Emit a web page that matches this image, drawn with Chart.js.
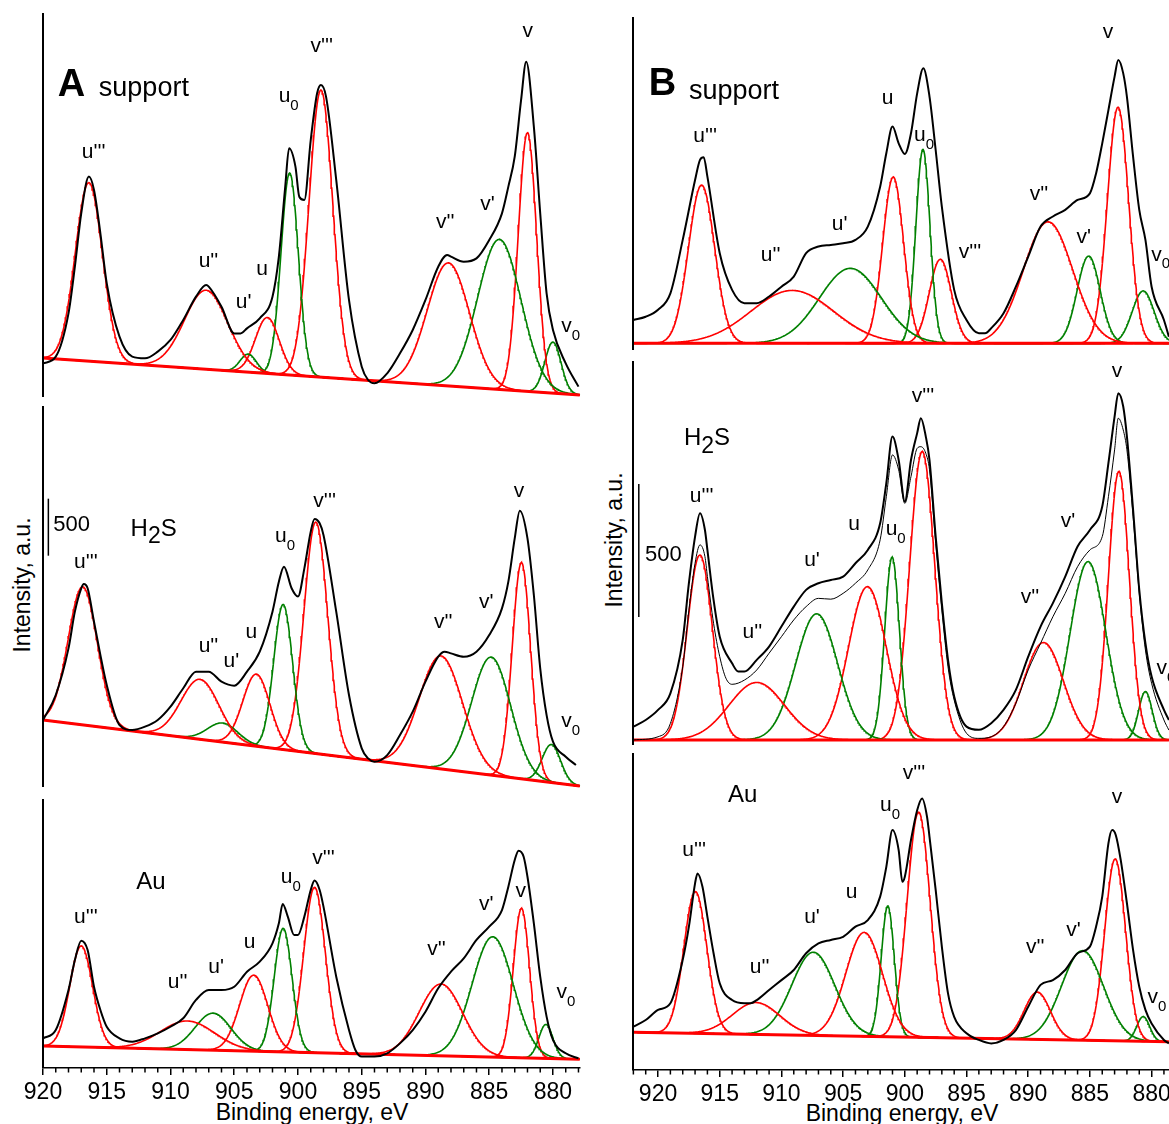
<!DOCTYPE html>
<html>
<head>
<meta charset="utf-8">
<title>Ce 3d XPS spectra</title>
<script src="https://cdn.jsdelivr.net/npm/chart.js@4.4.1/dist/chart.umd.min.js"></script>
<style>
  html, body { margin: 0; padding: 0; background: #fff; overflow: hidden; }
  body { width: 1169px; height: 1124px; position: relative; font-family: "Liberation Sans", Arial, sans-serif; }
  canvas { position: absolute; }
  .axisTitle { position: absolute; font-size: 23px; color: #000; white-space: nowrap; transform: translate(-50%, -50%); }
  .rot { transform: translate(-50%, -50%) rotate(-90deg); }
</style>
</head>
<body>
<div class="axisTitle rot" style="left:22px; top:585px;">Intensity, a.u.</div>
<div class="axisTitle rot" style="left:614px; top:540px;">Intensity, a.u.</div>
<div class="axisTitle" style="left:312px; top:1112px;">Binding energy, eV</div>
<div class="axisTitle" style="left:902px; top:1113px;">Binding energy, eV</div>
<script>
// peak order is the same in every panel
var peakNames = ["u'''", "u''", "u'", "u", "u_0", "v'''", "v''", "v'", "v", "v_0"];
var peakState = ["Ce4+", "Ce4+", "Ce3+", "Ce4+", "Ce3+", "Ce4+", "Ce4+", "Ce3+", "Ce4+", "Ce3+"];

// baseline end points (eV)
var leftBaseEnergy = [920, 877.9];
var rightBaseEnergy = [922, 878.6];

// ---- A: support ----
var aSupportEnergy = [920, 919, 918, 917.5, 917, 916.4, 916, 915.5, 915, 914, 913, 912, 911, 910, 909, 908, 907.2, 907, 906, 905, 904.5, 904, 903, 902, 901.5, 901, 900.7, 900.2, 899.9, 899.5, 899, 898.5, 898.2, 897.8, 897, 896, 895, 894.5, 894, 893, 892, 891, 890, 889, 888.3, 888, 887, 886, 885, 884, 883.5, 883, 882.5, 882.1, 881.5, 881, 880.5, 880, 879, 878];
var aSupportCounts = [295, 354, 734, 1143, 1611, 1933, 1816, 1436, 997, 529, 354, 339, 398, 500, 676, 880, 982, 968, 792, 558, 558, 602, 690, 880, 1231, 1845, 2181, 2020, 1757, 1728, 2254, 2664, 2737, 2635, 1904, 851, 266, 149, 120, 208, 383, 588, 851, 1143, 1246, 1231, 1187, 1216, 1377, 1611, 1845, 2108, 2605, 2941, 2371, 1611, 909, 588, 295, 91];
var aSupportBaseline = [342, 18];
var aSupportCenter = [916.4, 907.2, 903.9, 902.4, 900.65, 898.2, 888.2, 884.2, 882.0, 880.0];
var aSupportHeight = [1566, 693, 158, 491, 1772, 2518, 1079, 1316, 2270, 447];
var aSupportWidth = [2.5, 4.0, 1.5, 2.2, 1.6, 2.2, 3.9, 4.0, 1.7, 1.5];
var aSupportLabelE = [916.03, 907.02, 904.26, 902.81, 900.73, 898.14, 888.45, 885.14, 881.98, 878.61];
var aSupportLabelC = [2140, 1184, 825, 1114, 2632, 3070, 1526, 1684, 3202, 614];

// ---- A: H2S ----
var aH2SEnergy = [920, 919, 918, 917.5, 917, 916.8, 916.5, 916, 915, 914, 913, 912, 911, 910, 909, 908, 907, 906, 905, 904, 903, 902, 901.5, 901.1, 900.5, 900, 899.5, 899, 898.7, 898.3, 898, 897, 896, 895, 894.5, 894, 893, 892, 891, 890, 889, 888.5, 888, 887, 886, 885, 884, 883.5, 883, 882.6, 882, 881.5, 881, 880.5, 880, 879, 878.2];
var aH2SCounts = [588, 807, 1216, 1538, 1743, 1781, 1743, 1450, 895, 544, 500, 529, 588, 705, 866, 1012, 1012, 924, 889, 1012, 1187, 1538, 1801, 1933, 1743, 1670, 1918, 2240, 2351, 2313, 2211, 1538, 807, 339, 251, 222, 280, 456, 661, 924, 1143, 1187, 1172, 1143, 1187, 1333, 1567, 1801, 2181, 2424, 2181, 1684, 1041, 631, 398, 266, 193];
var aH2SBaseline = [588, 9];
var aH2SCenter = [916.88, 907.68, 905.9, 903.26, 901.16, 898.6, 888.78, 884.84, 882.47, 880.12];
var aH2SHeight = [1211, 526, 167, 632, 1272, 2030, 991, 1035, 1897, 333];
var aH2SWidth = [2.7, 3.5, 2.8, 2.5, 1.75, 2.2, 4.0, 3.6, 1.7, 1.7];
var aH2SLabelE = [916.64, 907.02, 905.22, 903.65, 901.01, 897.91, 888.60, 885.23, 882.67, 878.61];
var aH2SLabelC = [1965, 1228, 1097, 1351, 2193, 2500, 1439, 1614, 2588, 570];

// ---- A: Au ----
var aAuEnergy = [920, 919, 918, 917.5, 917, 916.5, 916, 915.5, 915, 914, 913, 912, 911, 910, 909, 908, 907, 906, 905, 904, 903, 902, 901.5, 901.2, 900.8, 900.3, 900, 899.5, 899, 898.7, 898.3, 898, 897, 896, 895.5, 895, 894, 893, 892, 891, 890, 889, 888, 887, 886, 885, 884, 883.5, 883, 882.7, 882.3, 882, 881.5, 881, 880.5, 880, 879, 878];
var aAuCounts = [260, 333, 684, 947, 1117, 1035, 713, 509, 362, 260, 231, 260, 304, 362, 436, 597, 684, 684, 713, 845, 933, 1094, 1269, 1439, 1328, 1167, 1167, 1328, 1562, 1644, 1562, 1416, 801, 333, 158, 100, 100, 129, 216, 333, 494, 699, 845, 962, 1123, 1240, 1386, 1591, 1825, 1907, 1854, 1678, 1269, 801, 451, 246, 129, 85];
var aAuBaseline = [193, 77];
var aAuCenter = [917.0, 908.67, 906.66, 903.47, 901.16, 898.7, 888.78, 884.72, 882.47, 880.55];
var aAuHeight = [886, 251, 325, 667, 1084, 1451, 630, 1056, 1311, 298];
var aAuWidth = [2.1, 5.0, 3.3, 2.6, 1.65, 2.0, 4.0, 3.8, 1.5, 1.3];
var aAuLabelE = [916.64, 909.44, 906.42, 903.80, 900.56, 898.0, 889.14, 885.23, 882.53, 878.98];
var aAuLabelC = [1316, 746, 877, 1097, 1667, 1842, 1035, 1430, 1544, 658];

// ---- B: support ----
var bSupportEnergy = [922, 921, 920, 919, 918, 917, 916.6, 916.3, 916, 915, 914, 913, 912, 911, 910, 909, 908, 907, 906, 905, 904, 903, 902, 901.5, 901, 900.5, 900, 899.5, 899, 898.5, 898, 897.5, 897, 896, 895, 894, 893.5, 893, 892, 891, 890, 889, 888, 887, 886, 885, 884.5, 884, 883.5, 883, 882.7, 882.3, 882, 881.5, 881, 880.5, 880, 879, 878.6];
var bSupportCounts = [113, 125, 151, 213, 414, 639, 715, 725, 652, 364, 226, 176, 176, 201, 238, 276, 364, 389, 395, 401, 414, 464, 614, 740, 840, 777, 737, 815, 965, 1059, 953, 752, 539, 226, 113, 63, 63, 82, 138, 238, 351, 464, 502, 527, 564, 589, 664, 777, 902, 1028, 1090, 1040, 952, 727, 527, 414, 238, 113, 50];
var bSupportBaseline = [25, 25];
var bSupportCenter = [916.47, 909.12, 904.41, 900.94, 898.53, 897.12, 888.39, 885.1, 882.72, 880.68];
var bSupportHeight = [595, 199, 282, 625, 729, 316, 457, 328, 888, 197];
var bSupportWidth = [2.5, 7.9, 5.9, 2.0, 1.35, 2.1, 4.7, 2.2, 2.03, 2.1];
var bSupportLabelE = [916.19, 910.88, 905.29, 901.39, 898.44, 894.72, 889.12, 885.50, 883.53, 879.27];
var bSupportLabelC = [801, 357, 470, 947, 808, 368, 583, 421, 1192, 357];

// ---- B: H2S (measured and fitted envelope) ----
var bH2SEnergy = [922, 921, 920, 919, 918, 917.5, 917, 916.6, 916.2, 916, 915.5, 915, 914, 913.5, 913, 912, 911, 910, 909, 908, 907, 906, 905, 904, 903, 902, 901.5, 901, 900.5, 900, 899.5, 899, 898.7, 898.3, 898, 897.5, 897, 896.5, 896, 895, 894, 893, 892, 891, 890, 889, 888, 887, 886, 885, 884, 883.5, 883, 882.7, 882.3, 882, 881.5, 881, 880.5, 880, 879, 878.6];
var bH2SCounts = [69, 94, 132, 194, 395, 608, 783, 871, 808, 733, 545, 407, 307, 276, 276, 320, 370, 445, 520, 583, 608, 620, 633, 683, 733, 833, 984, 1159, 1071, 915, 1071, 1172, 1228, 1159, 1071, 783, 533, 320, 182, 69, 57, 82, 132, 207, 332, 445, 533, 633, 746, 808, 896, 1059, 1234, 1322, 1272, 1159, 884, 583, 382, 257, 132, 94];
var bH2SFitEnergy = [922, 920, 919, 918, 917.5, 917, 916.6, 916.2, 916, 915.5, 915, 914.5, 914, 913, 912, 911, 910, 909, 908, 907, 906, 905, 904, 903, 902, 901.5, 901, 900.5, 900, 899.5, 899, 898.7, 898.3, 898, 897.5, 897, 896.5, 896, 895, 894, 893, 892, 891, 890, 889, 888, 887, 886, 885, 884, 883.5, 883, 882.7, 882.3, 882, 881.5, 881, 880.5, 880, 879, 878.6];
var bH2SFitCounts = [19, 31, 81, 294, 507, 683, 752, 708, 633, 457, 332, 251, 228, 244, 282, 345, 407, 470, 520, 551, 548, 570, 608, 658, 771, 933, 1090, 1034, 908, 1009, 1115, 1121, 1096, 1034, 758, 507, 294, 169, 44, 25, 31, 69, 157, 282, 382, 482, 570, 670, 733, 783, 933, 1109, 1228, 1184, 1109, 858, 570, 357, 232, 94, 56];
var bH2SBaseline = [19, 19];
var bH2SCenter = [916.61, 912.0, 907.14, 903.03, 901.03, 898.59, 888.76, 885.15, 882.65, 880.5];
var bH2SHeight = [695, 216, 474, 576, 687, 1084, 366, 670, 1009, 182];
var bH2SWidth = [2.4, 5.3, 4.0, 3.6, 1.4, 2.4, 3.8, 3.4, 2.0, 1.3];
var bH2SLabelE = [916.47, 912.35, 907.52, 904.12, 900.74, 898.53, 889.85, 886.77, 882.80, 878.84];
var bH2SLabelC = [932, 421, 695, 827, 808, 1308, 556, 838, 1402, 289];

// ---- B: Au ----
var bAuEnergy = [922, 921, 920, 919, 918, 917.5, 917, 916.8, 916.4, 916, 915.5, 915, 914, 913, 912.5, 912, 911, 910, 909, 908, 907, 906, 905, 904, 903, 902, 901.5, 901, 900.5, 900.2, 900, 899.5, 899, 898.6, 898.2, 898, 897.5, 897, 896.5, 896, 895, 894, 893, 892, 891, 890, 889, 888, 887, 886, 885, 884.5, 884, 883.5, 883.2, 882.9, 882.5, 882, 881.5, 881, 880.5, 880, 879, 878.6];
var bAuCounts = [163, 188, 226, 251, 414, 539, 702, 739, 689, 576, 439, 326, 263, 251, 251, 263, 301, 338, 376, 439, 476, 489, 501, 539, 564, 652, 764, 902, 827, 708, 727, 865, 977, 1021, 952, 877, 677, 464, 288, 200, 138, 113, 100, 113, 150, 238, 320, 338, 376, 439, 464, 539, 652, 852, 902, 883, 789, 627, 451, 313, 226, 175, 113, 100];
var bAuBaseline = [142, 106];
var bAuCenter = [916.97, 912.05, 907.41, 903.29, 901.38, 898.88, 889.26, 885.59, 882.95, 880.68];
var bAuHeight = [533, 120, 313, 391, 492, 847, 178, 337, 684, 93];
var bAuWidth = [2.2, 4.5, 4.1, 3.5, 1.25, 2.2, 2.5, 4.0, 2.0, 1.23];
var bAuLabelE = [917.08, 911.76, 907.52, 904.32, 901.20, 899.25, 889.42, 886.33, 882.80, 879.56];
var bAuLabelC = [827, 387, 575, 669, 996, 1116, 459, 526, 1026, 274];

var FONT = '"Liberation Sans", Arial, sans-serif';
var stateColor = { "Ce4+": "#ff0000", "Ce3+": "#008000" };

var panels = [
  { area: [43, 13, 580, 397], xRange: [877.88, 920], yMax: 3368, xAxis: false,
    energy: aSupportEnergy, counts: aSupportCounts, baseline: aSupportBaseline, baseEnergy: leftBaseEnergy,
    center: aSupportCenter, height: aSupportHeight, width: aSupportWidth, labelE: aSupportLabelE, labelC: aSupportLabelC,
    titles: [{ text: "A", x: 917.76, y: 2759, size: 38, bold: true, caps: true },
             { text: "support", x: 915.62, y: 2702, size: 27, align: "left" }] },
  { area: [43, 406, 580, 787], xRange: [877.88, 920], yMax: 3342, xAxis: false,
    energy: aH2SEnergy, counts: aH2SCounts, baseline: aH2SBaseline, baseEnergy: leftBaseEnergy,
    center: aH2SCenter, height: aH2SHeight, width: aH2SWidth, labelE: aH2SLabelE, labelC: aH2SLabelC,
    titles: [{ text: "H_2S", x: 911.32, y: 2281, size: 24, caps: true, subScale: 0.95, subShift: 0.3 }],
    scaleBar: { x: 919.58, from: 2029, to: 2529, textX: 919.19, textY: 2316 } },
  { area: [43, 799, 580, 1068], xRange: [877.88, 920], yMax: 2360, xAxis: true,
    energy: aAuEnergy, counts: aAuCounts, baseline: aAuBaseline, baseEnergy: leftBaseEnergy,
    center: aAuCenter, height: aAuHeight, width: aAuWidth, labelE: aAuLabelE, labelC: aAuLabelC,
    titles: [{ text: "Au", x: 911.53, y: 1649, size: 24, caps: true }] },
  { area: [633, 17, 1169, 350], xRange: [878.59, 922.03], yMax: 1252, xAxis: false,
    energy: bSupportEnergy, counts: bSupportCounts, baseline: bSupportBaseline, baseEnergy: rightBaseEnergy,
    center: bSupportCenter, height: bSupportHeight, width: bSupportWidth, labelE: bSupportLabelE, labelC: bSupportLabelC,
    titles: [{ text: "B", x: 919.64, y: 1009, size: 38, bold: true, caps: true },
             { text: "support", x: 917.5, y: 971, size: 27, align: "left" }] },
  { area: [633, 361, 1169, 745], xRange: [878.59, 922.03], yMax: 1443, xAxis: false,
    energy: bH2SEnergy, counts: bH2SCounts, fitEnergy: bH2SFitEnergy, fitCounts: bH2SFitCounts,
    baseline: bH2SBaseline, baseEnergy: rightBaseEnergy,
    center: bH2SCenter, height: bH2SHeight, width: bH2SWidth, labelE: bH2SLabelE, labelC: bH2SLabelC,
    titles: [{ text: "H_2S", x: 916.03, y: 1158, size: 24, caps: true, subScale: 0.95, subShift: 0.3 }],
    scaleBar: { x: 921.56, from: 481, to: 981, textX: 921.05, textY: 722 } },
  { area: [633, 753, 1169, 1070], xRange: [878.59, 922.03], yMax: 1192, xAxis: true,
    energy: bAuEnergy, counts: bAuCounts, baseline: bAuBaseline, baseEnergy: rightBaseEnergy,
    center: bAuCenter, height: bAuHeight, width: bAuWidth, labelE: bAuLabelE, labelC: bAuLabelC,
    titles: [{ text: "Au", x: 913.15, y: 1041, size: 24, caps: true }] }
];

var AXIS_H = 52;
var PAD = 24;

function baselineAt(p, e) {
  var t = (p.baseEnergy[0] - e) / (p.baseEnergy[0] - p.baseEnergy[1]);
  return p.baseline[0] + t * (p.baseline[1] - p.baseline[0]);
}

// one fitted component on top of the baseline
function componentPoints(p, i) {
  var c = p.center[i], h = p.height[i], w = p.width[i];
  var lo = Math.max(p.xRange[0], c - 3.5 * w), hi = Math.min(p.xRange[1], c + 3.5 * w);
  var pts = [];
  for (var e = lo; e <= hi + 1e-9; e += 0.05) {
    pts.push({ x: e, y: baselineAt(p, e) + h * Math.exp(-4 * Math.LN2 * (e - c) * (e - c) / (w * w)) });
  }
  return pts;
}

function toPoints(en, cn) {
  return en.map(function (e, i) { return { x: e, y: cn[i] }; });
}

// text with one-character subscripts written as "_x"
function drawRich(ctx, item, px, py) {
  var size = item.size, subScale = item.subScale || 0.72, subShift = item.subShift || 0.38;
  var parts = [], s = item.text;
  for (var i = 0; i < s.length; i++) {
    if (s[i] === "_") { parts.push({ t: s[i + 1], sub: true }); i++; continue; }
    var last = parts[parts.length - 1];
    if (last && !last.sub) last.t += s[i]; else parts.push({ t: s[i], sub: false });
  }
  var weight = item.bold ? "bold " : "";
  var total = 0;
  parts.forEach(function (q) {
    q.size = q.sub ? Math.round(size * subScale) : size;
    ctx.font = weight + q.size + "px " + FONT;
    q.w = ctx.measureText(q.t).width;
    total += q.w;
  });
  var x = item.align === "left" ? px : px - total / 2;
  var base = py + size * (item.caps ? 0.36 : 0.26);
  ctx.textAlign = "left";
  ctx.textBaseline = "alphabetic";
  ctx.fillStyle = "#000";
  parts.forEach(function (q) {
    ctx.font = weight + q.size + "px " + FONT;
    ctx.fillText(q.t, x, q.sub ? base + size * subShift : base);
    x += q.w;
  });
}

function makeDecor(p) {
  var labels = p.titles.slice();
  peakNames.forEach(function (n, i) {
    labels.push({ text: n, x: p.labelE[i], y: p.labelC[i], size: 21 });
  });
  return {
    id: "panelDecor",
    afterDraw: function (chart) {
      var ctx = chart.ctx, area = chart.chartArea, xs = chart.scales.x, ys = chart.scales.y;
      ctx.save();
      ctx.strokeStyle = "#000";
      ctx.lineWidth = 2;
      ctx.beginPath();
      ctx.moveTo(area.left, area.top);
      ctx.lineTo(area.left, area.bottom);
      ctx.stroke();
      if (p.xAxis) {
        // minor ticks every 1 eV
        ctx.lineWidth = 1.5;
        for (var e = Math.ceil(xs.min); e <= xs.max; e++) {
          if (e % 5 === 0) continue;
          var tx = xs.getPixelForValue(e);
          ctx.beginPath();
          ctx.moveTo(tx, area.bottom);
          ctx.lineTo(tx, area.bottom + 4.5);
          ctx.stroke();
        }
      }
      if (p.scaleBar) {
        var sb = p.scaleBar, bx = xs.getPixelForValue(sb.x);
        ctx.lineWidth = 1.5;
        ctx.beginPath();
        ctx.moveTo(bx, ys.getPixelForValue(sb.from));
        ctx.lineTo(bx, ys.getPixelForValue(sb.to));
        ctx.stroke();
        drawRich(ctx, { text: "500", size: 22, caps: true, align: "left" },
          xs.getPixelForValue(sb.textX), ys.getPixelForValue(sb.textY));
      }
      labels.forEach(function (it) {
        drawRich(ctx, it, xs.getPixelForValue(it.x), ys.getPixelForValue(it.y));
      });
      ctx.restore();
    }
  };
}

panels.forEach(function (p) {
  var a = p.area;
  var w = a[2] - a[0] + 2 * PAD;
  var h = a[3] - a[1] + 4 + (p.xAxis ? AXIS_H : 4);
  var cv = document.createElement("canvas");
  cv.width = w;
  cv.height = h;
  cv.style.left = (a[0] - PAD) + "px";
  cv.style.top = (a[1] - 4) + "px";
  cv.style.width = w + "px";
  cv.style.height = h + "px";
  document.body.appendChild(cv);

  var common = { pointRadius: 0, fill: false, clip: 6, tension: 0 };
  var datasets = [];
  datasets.push(Object.assign({ data: toPoints(p.energy, p.counts), borderColor: "#000", borderWidth: 2,
    cubicInterpolationMode: "monotone" }, common));
  if (p.fitEnergy) {
    datasets.push(Object.assign({ data: toPoints(p.fitEnergy, p.fitCounts), borderColor: "#000", borderWidth: 1,
      cubicInterpolationMode: "monotone" }, common));
  }
  datasets.push(Object.assign({ data: toPoints(p.baseEnergy, p.baseline), borderColor: "#ff0000", borderWidth: 3 }, common));
  p.center.forEach(function (c, i) {
    datasets.push(Object.assign({ data: componentPoints(p, i), borderColor: stateColor[peakState[i]], borderWidth: 1.6 }, common));
  });

  var xScale = {
    type: "linear", reverse: true, min: p.xRange[0], max: p.xRange[1], display: p.xAxis,
    ticks: { stepSize: 5, includeBounds: false, autoSkip: false, maxRotation: 0, padding: 4,
             color: "#000", font: { family: FONT, size: 23 } },
    grid: { drawOnChartArea: false, drawTicks: true, tickLength: 7, color: "#000", lineWidth: 1.5 },
    border: { display: true, color: "#000", width: 1.5 }
  };
  if (p.xAxis) {
    xScale.afterFit = function (s) { s.height = AXIS_H; s.paddingLeft = 0; s.paddingRight = 0; };
  }

  new Chart(cv.getContext("2d"), {
    type: "line",
    data: { datasets: datasets },
    options: {
      responsive: false,
      animation: false,
      events: [],
      layout: { padding: { left: PAD, right: PAD, top: 4, bottom: p.xAxis ? 0 : 4 } },
      plugins: { legend: { display: false }, tooltip: { enabled: false } },
      scales: {
        x: xScale,
        y: { type: "linear", min: 0, max: p.yMax, display: false }
      }
    },
    plugins: [makeDecor(p)]
  });
});
</script>
</body>
</html>
